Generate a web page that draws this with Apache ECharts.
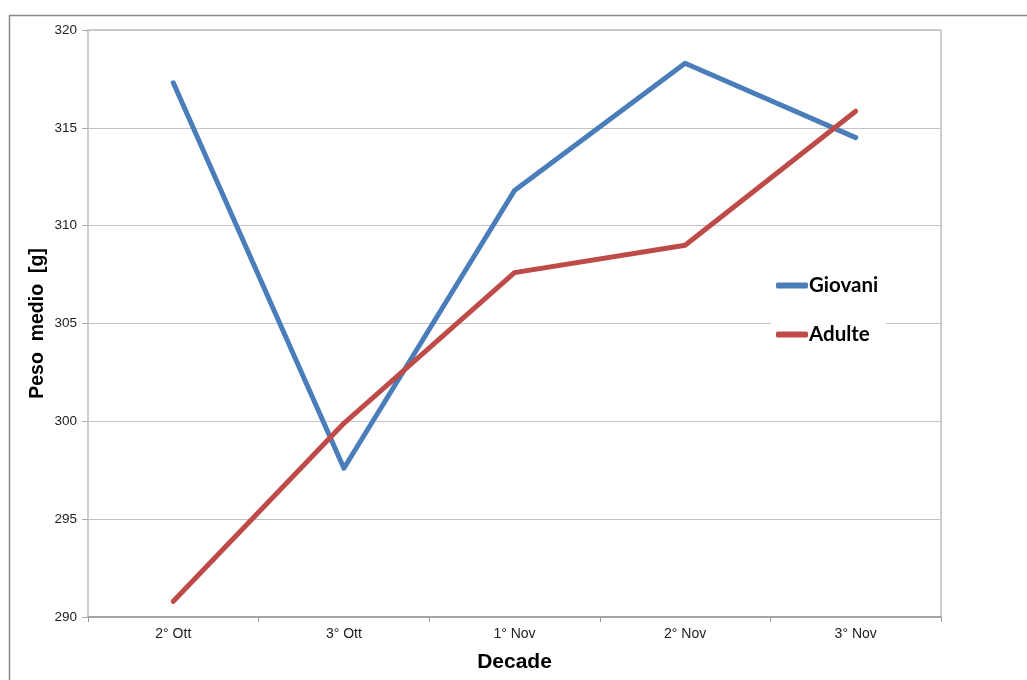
<!DOCTYPE html>
<html>
<head>
<meta charset="utf-8">
<script src="https://cdn.jsdelivr.net/npm/echarts@6/dist/echarts.min.js"></script>
<style>
  html, body { margin: 0; padding: 0; background: #fff; }
  #chart { width: 1027px; height: 680px; }
</style>
</head>
<body>
<div id="chart"></div>
<script>
// Decades of observation
const categories = ['2° Ott', '3° Ott', '1° Nov', '2° Nov', '3° Nov'];
// Mean weight (g) per decade
const giovani = [317.3, 297.6, 311.8, 318.3, 314.5];
const adulte = [290.8, 299.9, 307.6, 309.0, 315.85];

const chart = echarts.init(document.getElementById('chart'));
chart.setOption({
  backgroundColor: '#fff',
  animation: false,
  graphic: [{
    type: 'rect',
    shape: { x: 9.5, y: 15.5, width: 1040, height: 700 },
    style: { fill: 'none', stroke: '#8a8a8a', lineWidth: 1.5 },
    silent: true
  }],
  grid: {
    left: 88, top: 30, right: 86, bottom: 63,
    outerBoundsMode: 'none',
    show: true, borderColor: '#c0c0c0', borderWidth: 1.5
  },
  legend: {
    orient: 'vertical',
    left: 771, top: 266,
    padding: [9, 8, 9, 5],
    backgroundColor: '#fff',
    itemGap: 28,
    itemWidth: 32, itemHeight: 6,
    icon: 'roundRect',
    textStyle: {
      fontFamily: 'Lato', fontWeight: 'bold', fontSize: 20.5, color: '#000',
      padding: [0, 0, 0, -4]
    },
    data: ['Giovani', 'Adulte']
  },
  xAxis: {
    type: 'category',
    data: categories,
    boundaryGap: true,
    name: 'Decade',
    nameLocation: 'middle',
    nameGap: 35,
    nameMoveOverlap: false,
    nameTextStyle: { fontFamily: 'Liberation Sans', fontWeight: 'bold', fontSize: 21, color: '#000' },
    axisLine: { lineStyle: { color: '#9a9a9a', width: 1.5 } },
    axisTick: { show: true, length: 5, lineStyle: { color: '#9a9a9a' } },
    axisLabel: { fontFamily: 'Liberation Sans', fontSize: 14, color: '#222', margin: 10 },
    splitLine: { show: false }
  },
  yAxis: {
    type: 'value',
    min: 290, max: 320, interval: 5,
    name: 'Peso  medio  [g]',
    nameLocation: 'middle',
    nameGap: 40,
    nameMoveOverlap: false,
    nameTextStyle: { fontFamily: 'Liberation Sans', fontWeight: 'bold', fontSize: 19.5, color: '#000' },
    axisLine: { show: true, lineStyle: { color: '#cfcfcf', width: 1.5 } },
    axisTick: { show: true, length: 6, lineStyle: { color: '#aaa' } },
    axisLabel: { fontFamily: 'Liberation Sans', fontSize: 13.5, color: '#222', margin: 11 },
    splitLine: { show: true, lineStyle: { color: '#c4c4c4', width: 1.2 } }
  },
  series: [
    {
      name: 'Giovani', type: 'line', data: giovani,
      showSymbol: false, symbol: 'none',
      lineStyle: { color: '#4a7ebb', width: 5, cap: 'round', join: 'round' },
      itemStyle: { color: '#4a7ebb' }
    },
    {
      name: 'Adulte', type: 'line', data: adulte,
      showSymbol: false, symbol: 'none',
      lineStyle: { color: '#be4b48', width: 5, cap: 'round', join: 'round' },
      itemStyle: { color: '#be4b48' }
    }
  ]
});
</script>
</body>
</html>
